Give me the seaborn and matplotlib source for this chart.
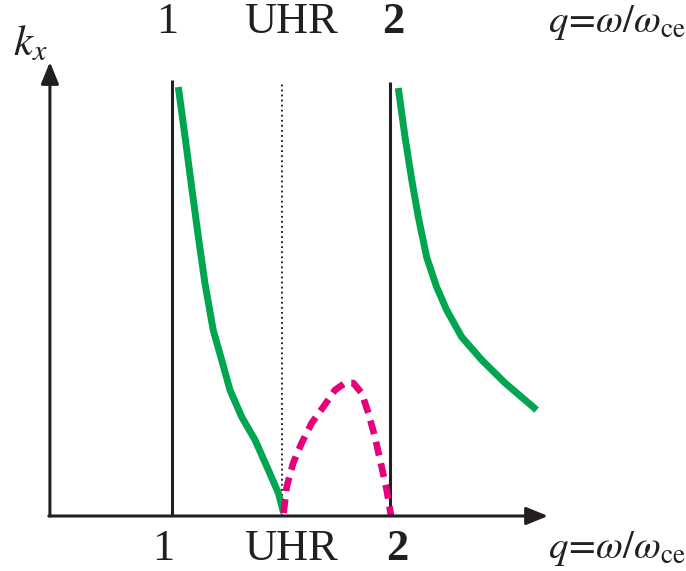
import numpy as np
import pandas as pd
import matplotlib
matplotlib.use("Agg")
import matplotlib.pyplot as plt
import seaborn as sns

# ---- data (q = omega/omega_ce, k_x in arbitrary units) ----
green1_q = [1.029, 1.060, 1.090, 1.121, 1.151, 1.189, 1.228, 1.266, 1.320, 1.381, 1.442, 1.488, 1.512]
green1_k = [429, 379, 329, 279, 233, 186, 156, 126, 99, 76, 46, 23, 3]
green2_q = [2.038, 2.069, 2.100, 2.130, 2.168, 2.214, 2.260, 2.329, 2.421, 2.528, 2.673]
green2_k = [428, 379, 336, 299, 259, 229, 206, 179, 156, 133, 106]
mag_q = [1.512, 1.526, 1.556, 1.595, 1.641, 1.694, 1.748, 1.794, 1.832, 1.870, 1.901, 1.931, 1.962, 1.985, 2.005]
mag_k = [3, 29, 53, 73, 93, 109, 126, 133, 133, 123, 103, 79, 49, 26, 0]
resonances = [1.0, 2.0]
uhr_q = 1.506
tick_labels = ["1", "UHR", "2"]

sns.set_theme(style="white")
plt.rcParams["font.family"] = ["Liberation Serif", "DejaVu Serif"]
plt.rcParams["mathtext.fontset"] = "stix"

fig = plt.figure(figsize=(6.86, 5.71), dpi=100)
ax = fig.add_axes([0, 0, 1, 1])
ax.set_xlim(0.211, 3.358)
ax.set_ylim(-55, 516)
ax.axis("off")

axc = "#231f20"
green = "#00a550"
magenta = "#e6007e"

# resonance lines
for r, top in zip(resonances, [436, 434]):
    ax.plot([r, r], [0, top], color=axc, lw=2.2, solid_capstyle="butt")
ax.plot([uhr_q, uhr_q], [0, 434], color="#111111", lw=1.3, ls=(0, (1, 1.8)))

# curves
sns.lineplot(x=green1_q, y=green1_k, sort=False, estimator=None, ax=ax,
             color=green, lw=5, solid_capstyle="butt", solid_joinstyle="round")
sns.lineplot(x=green2_q, y=green2_k, sort=False, estimator=None, ax=ax,
             color=green, lw=5, solid_capstyle="butt", solid_joinstyle="round")
sns.lineplot(x=mag_q, y=mag_k, sort=False, estimator=None, ax=ax,
             color=magenta, lw=4.8, dashes=False)
ax.lines[-1].set_linestyle((0, (2.1, 1.2)))
ax.lines[-1].set_dash_capstyle("butt")

# axes with arrows
x0 = 0.44
ax.annotate("", xy=(2.725, 0), xytext=(x0 - 0.005, 0),
            arrowprops=dict(arrowstyle="-|>,head_length=1.1,head_width=0.45",
                            color=axc, lw=2.2, shrinkA=0, shrinkB=0))
ax.annotate("", xy=(x0, 454), xytext=(x0, 0),
            arrowprops=dict(arrowstyle="-|>,head_length=1.1,head_width=0.45",
                            color=axc, lw=2.2, shrinkA=0, shrinkB=0))

# labels
fs = 32
top_y = 516 - 22
bot_y = 516 - 549
pos = [0.977, 1.546, 2.015]
weights = ["normal", "normal", "bold"]
for lab, p, w in zip(tick_labels, pos, weights):
    ax.text(p, top_y, lab, ha="center", va="center", fontsize=fs, color=axc,
            fontweight=w)
pos_b = [0.96, 1.546, 2.035]
for lab, p, w in zip(tick_labels, pos_b, weights):
    ax.text(p, bot_y, lab, ha="center", va="center", fontsize=fs, color=axc,
            fontweight=w)

qlab = r"$q\!=\!\omega/\omega_{\mathrm{ce}}$"
ax.text(3.356, top_y, qlab, ha="right", va="center", fontsize=28, color=axc)
ax.text(3.356, bot_y, qlab, ha="right", va="center", fontsize=28, color=axc)
ax.text(0.35, 516 - 44, r"$k_x$", ha="center", va="center", fontsize=31, color=axc)

fig.savefig("out.png", dpi=100)
